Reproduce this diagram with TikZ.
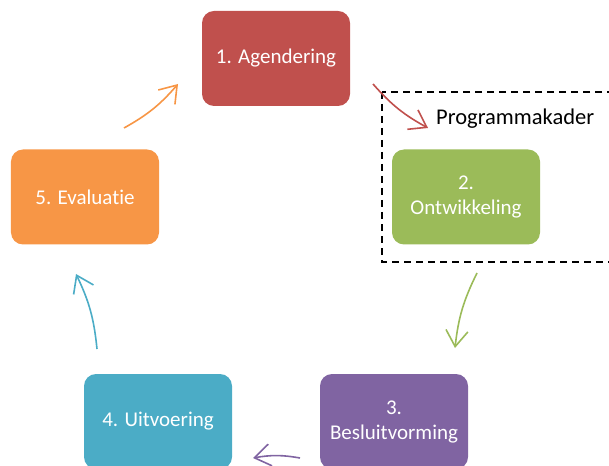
\documentclass[tikz,border=0pt]{standalone}
\usepackage{fontspec}
\setmainfont{Carlito}[RawFeature={-liga;-dlig;-clig}]
\usetikzlibrary{arrows.meta}
\definecolor{cred}{HTML}{C0504D}
\definecolor{cgreen}{HTML}{9BBB59}
\definecolor{cpurple}{HTML}{8064A2}
\definecolor{cteal}{HTML}{4BACC6}
\definecolor{corange}{HTML}{F79646}
\begin{document}
\begin{tikzpicture}[x=1bp,y=-1bp,
  phase/.style={rectangle, rounded corners=12bp, minimum width=148bp, minimum height=95bp,
    inner sep=0pt, text=white, align=center, font=\fontsize{21bp}{25bp}\selectfont},
  flow/.style={line width=1.6bp, -{Straight Barb[length=16bp,width=22bp,line width=1.6bp]}, bend right=10}]
\useasboundingbox (0,0) rectangle (609,466);
\clip (0,0) rectangle (609,466);
\node[phase, fill=cred] (n1) at (276,58.5) {1. Agendering};
\node[phase, fill=cgreen] (n2) at (466,197) {2.\\Ontwikkeling};
\node[phase, fill=cpurple] (n3) at (394,421.5) {3.\\Besluitvorming};
\node[phase, fill=cteal] (n4) at (158,421.5) {4. Uitvoering};
\node[phase, fill=corange] (n5) at (85,197) {5. Evaluatie};
\draw[dashed, line width=1.3bp, dash pattern=on 7bp off 5bp] (382,92) rectangle (640,262);
\node[anchor=west, inner sep=0pt, font=\fontsize{22.5bp}{26bp}\selectfont] (pk) at (436,119) {Programmakader};
\coordinate (r1) at (373,84); \coordinate (r2) at (428,128);
\coordinate (g1) at (477,273); \coordinate (g2) at (455,348);
\coordinate (p1) at (300,458); \coordinate (p2) at (253,458);
\coordinate (t1) at (97,349); \coordinate (t2) at (76,274);
\coordinate (o1) at (124,128); \coordinate (o2) at (178,84);
\draw[flow, cred] (r1) to (r2);
\draw[flow, cgreen] (g1) to (g2);
\draw[flow, cpurple] (p1) to (p2);
\draw[flow, cteal] (t1) to (t2);
\draw[flow, corange] (o1) to (o2);
\end{tikzpicture}
\end{document}
